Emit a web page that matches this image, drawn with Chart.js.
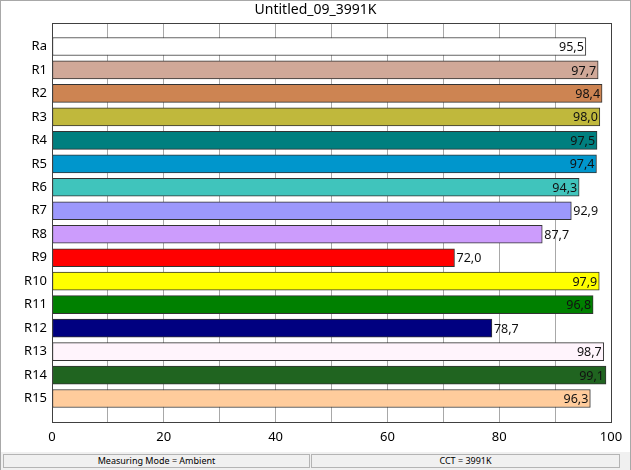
<!DOCTYPE html>
<html>
<head>
<meta charset="utf-8">
<script src="https://cdn.jsdelivr.net/npm/chart.js@4.4.0/dist/chart.umd.min.js"></script>
<style>
  html, body { margin: 0; padding: 0; background: #fff; }
  #frame {
    position: relative;
    width: 629px; height: 469px;
    border-top: 1px solid #a8a8a8;
    border-left: 1px solid #a8a8a8;
    border-right: 1px solid #a8a8a8;
    overflow: hidden;
    font-family: "Noto Sans", "Open Sans", sans-serif;
  }
  #chart-box { position: absolute; left: -1px; top: -1px; width: 631px; height: 452px; }
  #status {
    position: absolute; left: 0; top: 451px; width: 629px; height: 18px;
    background: #f0f0f0;
  }
  .panel {
    position: absolute; top: 2px; height: 12px;
    border: 1px solid #b4b4b4; background: #f0f0f0;
    font-size: 9px; line-height: 12px; text-align: center; color: #000;
  }
</style>
</head>
<body>
<div id="frame">
  <div id="chart-box"><canvas id="criChart"></canvas></div>
  <div id="status">
    <div class="panel" style="left:2px; width:305px;">Measuring Mode = Ambient</div>
    <div class="panel" style="left:310px; width:307px;">CCT = 3991K</div>
  </div>
</div>
<script>
// CRI values per test colour sample
const categories = ['Ra', 'R1', 'R2', 'R3', 'R4', 'R5', 'R6', 'R7', 'R8', 'R9', 'R10', 'R11', 'R12', 'R13', 'R14', 'R15'];
const values = [95.5, 97.7, 98.4, 98.0, 97.5, 97.4, 94.3, 92.9, 87.7, 72.0, 97.9, 96.8, 78.7, 98.7, 99.1, 96.3];
const barColors = [
  '#ffffff', '#d0a898', '#cd8452', '#c0b83c', '#007f7f', '#0096cc', '#40c4bc', '#9c98fc',
  '#cc9cfc', '#ff0000', '#ffff00', '#008000', '#000080', '#fff4fc', '#206420', '#ffcc9c'
];
const xTicks = [0, 20, 40, 60, 80, 100];
const chartTitle = 'Untitled_09_3991K';

const FONT = '"Noto Sans", "Open Sans", sans-serif';

// Title above the plot and frame around the plot area
const plotFrame = {
  id: 'plotFrame',
  afterDraw(chart) {
    const a = chart.chartArea;
    const ctx = chart.ctx;
    ctx.save();
    ctx.strokeStyle = '#404040';
    ctx.lineWidth = 1;
    ctx.strokeRect(Math.round(a.left) + 0.5, Math.round(a.top) + 0.5,
      Math.round(a.right - a.left), Math.round(a.bottom - a.top));
    ctx.font = '14px ' + FONT;
    ctx.fillStyle = '#000';
    ctx.textAlign = 'center';
    ctx.textBaseline = 'middle';
    ctx.fillText(chartTitle, chart.width / 2, 10);
    ctx.restore();
  }
};

// Value labels: inside the bar end when there is room, otherwise just after it
const valueLabels = {
  id: 'valueLabels',
  afterDatasetsDraw(chart) {
    const ctx = chart.ctx;
    const meta = chart.getDatasetMeta(0);
    ctx.save();
    ctx.font = '12.5px ' + FONT;
    ctx.fillStyle = '#111';
    ctx.textBaseline = 'middle';
    meta.data.forEach((bar, i) => {
      const v = values[i];
      const text = v.toFixed(1).replace('.', ',');
      if (v > 93) {
        ctx.textAlign = 'right';
        ctx.fillText(text, bar.x - 2, bar.y + 1);
      } else {
        ctx.textAlign = 'left';
        ctx.fillText(text, bar.x + 2, bar.y + 1);
      }
    });
    ctx.restore();
  }
};

// keep the plot box exactly where the padding puts it
function noLabelPadding(scale) {
  scale.paddingTop = 0;
  scale.paddingBottom = 0;
  scale.paddingLeft = 0;
  scale.paddingRight = 0;
}

new Chart(document.getElementById('criChart'), {
  type: 'bar',
  data: {
    datasets: [{
      data: values.map((v, i) => ({ x: v, y: i + 1 })),
      backgroundColor: barColors,
      borderColor: '#333333',
      borderWidth: 1,
      borderSkipped: false,
      barThickness: 18
    }]
  },
  options: {
    indexAxis: 'y',
    responsive: true,
    maintainAspectRatio: false,
    animation: false,
    layout: { padding: { left: 0, right: 20, top: 23, bottom: 0 } },
    scales: {
      x: {
        type: 'linear',
        min: 0,
        max: 100,
        afterBuildTicks(scale) {
          const t = [];
          for (let v = 0; v <= 100; v += 10) t.push({ value: v });
          scale.ticks = t;
        },
        afterFit(scale) { scale.height = 30; noLabelPadding(scale); },
        ticks: {
          autoSkip: false,
          maxRotation: 0,
          padding: 7,
          color: '#000',
          font: { family: FONT, size: 13 },
          callback: v => xTicks.includes(v) ? v : ''
        },
        grid: { color: '#a8a8a8', drawTicks: false },
        border: { display: false }
      },
      y: {
        type: 'linear',
        min: 0,
        max: 17,
        reverse: true,
        offset: false,
        afterBuildTicks(scale) {
          scale.ticks = categories.map((c, i) => ({ value: i + 1 }));
        },
        afterFit(scale) { scale.width = 52; noLabelPadding(scale); },
        ticks: {
          autoSkip: false,
          padding: 5,
          color: '#000',
          font: { family: FONT, size: 13 },
          callback: v => categories[v - 1] || ''
        },
        grid: { display: false, drawTicks: false },
        border: { display: false }
      }
    },
    plugins: {
      legend: { display: false },
      tooltip: { enabled: false },
      title: { display: false }
    }
  },
  plugins: [plotFrame, valueLabels]
});
</script>
</body>
</html>
